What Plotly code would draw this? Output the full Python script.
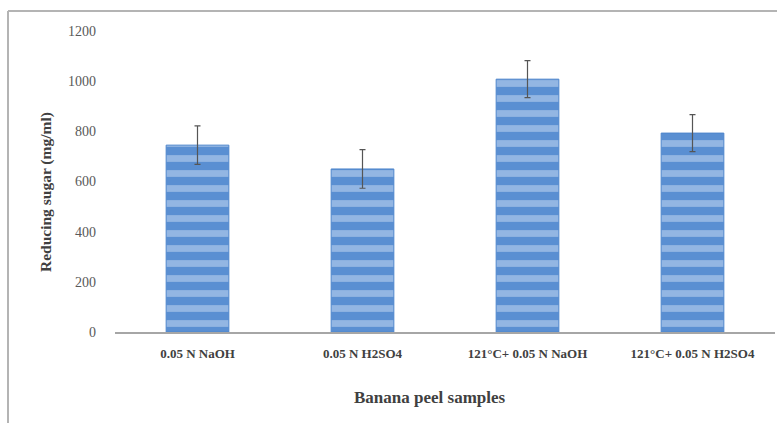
import plotly.graph_objects as go

categories = ["0.05 N NaOH", "0.05 N H2SO4", "121°C+ 0.05 N NaOH", "121°C+ 0.05 N H2SO4"]
values = [745, 650, 1008, 793]
errors = [77, 77, 74, 74]
y_ticks = [0, 200, 400, 600, 800, 1000, 1200]

L, R, T, B = 115, 2, 31, 91
W, H = 777, 423
pw, ph = W - L - R, H - T - B

def px(x):
    return (x - L) / pw

def py(y):
    return (H - B - y) / ph

fig = go.Figure()
fig.add_trace(go.Bar(
    x=categories, y=values,
    marker=dict(
        color="#5a8fd2",
        line=dict(color="#4f86cc", width=1),
        pattern=dict(shape="-", size=15, solidity=0.45, fgcolor="#93b6e3", fgopacity=1, fillmode="overlay"),
    ),
    error_y=dict(type="data", array=errors, visible=True, color="#555555", thickness=1.2, width=3),
))

fig.update_layout(
    width=W, height=H,
    margin=dict(l=L, r=R, t=T, b=B),
    paper_bgcolor="white", plot_bgcolor="white",
    showlegend=False,
    bargap=0.62,
    font=dict(family="Liberation Serif", color="#595959"),
    xaxis=dict(
        range=[-0.5, 3.5], showgrid=False, showline=True, linecolor="#a6a6a6", linewidth=1.5,
        ticks="", tickfont=dict(family="Liberation Serif", size=13, color="#404040", weight="bold"),
        ticklabelstandoff=9,
    ),
    yaxis=dict(
        range=[0, 1200], tickvals=y_ticks, showgrid=False, showline=False, zeroline=False,
        ticks="", tickfont=dict(family="Liberation Serif", size=14, color="#595959"),
        ticklabelstandoff=18,
    ),
    annotations=[
        dict(text="<b>Reducing sugar (mg/ml)</b>", x=px(46), y=py(192), xref="paper", yref="paper",
             xanchor="center", yanchor="middle",
             textangle=-90, showarrow=False, font=dict(family="Liberation Serif", size=15.5, color="#404040")),
        dict(text="<b>Banana peel samples</b>", x=px(430), y=py(397), xref="paper", yref="paper",
             xanchor="center", yanchor="middle",
             showarrow=False, font=dict(family="Liberation Serif", size=17, color="#404040")),
    ],
    shapes=[
        dict(type="line", xref="paper", yref="paper", x0=px(8), x1=px(777), y0=py(11), y1=py(11),
             line=dict(color="#b4b4b4", width=2)),
        dict(type="line", xref="paper", yref="paper", x0=px(8), x1=px(8), y0=py(11), y1=py(423),
             line=dict(color="#b4b4b4", width=2)),
    ],
)

fig.write_html("out.html", config={"displayModeBar": False},
               post_script="document.body.style.margin='0';document.body.style.overflow='hidden';")
